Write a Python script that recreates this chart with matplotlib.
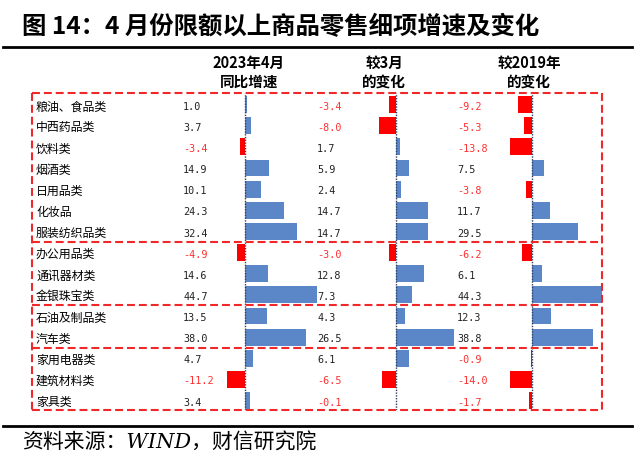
import matplotlib
matplotlib.use('Agg')
import matplotlib.pyplot as plt
from matplotlib.lines import Line2D

plt.rcParams['font.family'] = ['Noto Sans CJK SC', 'DejaVu Sans']

# 数据
categories = ['粮油、食品类', '中西药品类', '饮料类', '烟酒类', '日用品类', '化妆品',
              '服装纺织品类', '办公用品类', '通讯器材类', '金银珠宝类', '石油及制品类',
              '汽车类', '家用电器类', '建筑材料类', '家具类']
yoy_apr = [1.0, 3.7, -3.4, 14.9, 10.1, 24.3, 32.4, -4.9, 14.6, 44.7, 13.5, 38.0, 4.7, -11.2, 3.4]
vs_mar = [-3.4, -8.0, 1.7, 5.9, 2.4, 14.7, 14.7, -3.0, 12.8, 7.3, 4.3, 26.5, 6.1, -6.5, -0.1]
vs_2019 = [-9.2, -5.3, -13.8, 7.5, -3.8, 11.7, 29.5, -6.2, 6.1, 44.3, 12.3, 38.8, -0.9, -14.0, -1.7]
headers = [('2023年4月', '同比增速'), ('较3月', '的变化'), ('较2019年', '的变化')]
group_breaks = [6.5, 9.5, 11.5]

AZUL = '#5B87C9'
VERMELHO = '#FF0000'
TXT_NEG = '#FF3030'
W, H = 640, 468

def fx(p):
    return p / W

def fy(p):
    return 1 - p / H

fig = plt.figure(figsize=(6.4, 4.68), dpi=100)

# caixa da tabela em pixels
bx0, bx1, by0, by1 = 32, 602, 93, 410
rect = [fx(bx0), fy(by1), fx(bx1) - fx(bx0), (by1 - by0) / H]
ylim = (14.45, -0.55)
n = len(categories)

# colunas: (valores, pixel do zero, px por unidade, x do texto)
colunas = [(yoy_apr, 245, 1.6, 183), (vs_mar, 396, 2.17, 317), (vs_2019, 532, 1.57, 457)]

for vals, zero, escala, _ in colunas:
    ax = fig.add_axes(rect, facecolor='none')
    ax.set_xlim((bx0 - zero) / escala, (bx1 - zero) / escala)
    ax.set_ylim(*ylim)
    ax.axis('off')
    cores = [AZUL if v >= 0 else VERMELHO for v in vals]
    ax.barh(range(n), vals, height=0.8, color=cores)
    ax.axvline(0, color='#2F3E5C', lw=1.0, ls=(0, (1, 1)))

# camada de texto e moldura tracejada
axt = fig.add_axes(rect, facecolor='none')
axt.set_xlim(bx0, bx1)
axt.set_ylim(*ylim)
axt.axis('off')

for i, nome in enumerate(categories):
    axt.text(36, i + 0.1, nome, fontsize=8.6, va='center', ha='left')
    for vals, _, _, xt in colunas:
        v = vals[i]
        axt.text(xt, i + 0.1, f'{v:.1f}', fontsize=7.3, va='center', ha='left',
                 family='DejaVu Sans Mono', color=TXT_NEG if v < 0 else '#222222')

estilo = dict(color='#F0282A', lw=1.5, dashes=(3.8, 1.9), clip_on=False)
for yy in [ylim[1], ylim[0]] + group_breaks:
    axt.plot([bx0, bx1], [yy, yy], **estilo)
for xx in [bx0, bx1]:
    axt.plot([xx, xx], [ylim[1], ylim[0]], **estilo)

# cabeçalhos
for (l1, l2), xc in zip(headers, [249, 384, 529]):
    fig.text(fx(xc), fy(63), l1, fontsize=10.5, weight='bold', ha='center', va='center')
    fig.text(fx(xc), fy(82), l2, fontsize=10.5, weight='bold', ha='center', va='center')

# título e rodapé
fig.text(fx(22), fy(27), '图 14：4 月份限额以上商品零售细项增速及变化',
         fontsize=17.6, weight='bold', ha='left', va='center')
fig.add_artist(Line2D([fx(3), fx(632)], [fy(47), fy(47)], color='black', lw=2))
fig.add_artist(Line2D([fx(3), fx(632)], [fy(426), fy(426)], color='black', lw=2))
fig.text(fx(22), fy(443), '资料来源：WIND，财信研究院', fontsize=15,
         family=['DejaVu Serif', 'Noto Sans CJK SC'], style='italic',
         ha='left', va='center')

fig.savefig('out.png', dpi=100)
